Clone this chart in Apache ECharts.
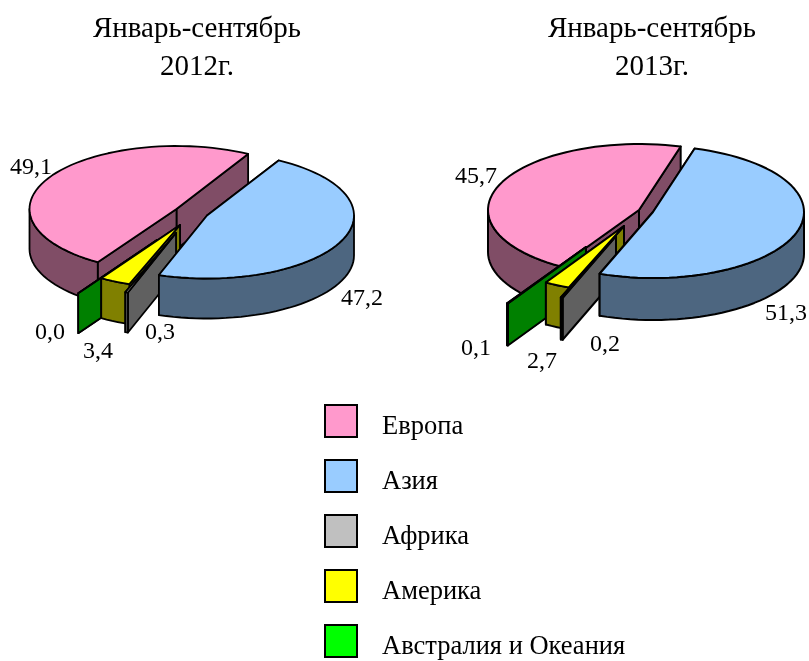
<!DOCTYPE html>
<html>
<head>
<meta charset="utf-8">
<script src="https://cdn.jsdelivr.net/npm/echarts@6/dist/echarts.min.js"></script>
<style>
    html, body { margin: 0; padding: 0; background: #fff; }
    #chart { width: 809px; height: 661px; }
</style>
</head>
<body>
<div id="chart"></div>
<script>
const categories = ['Европа', 'Азия', 'Африка', 'Америка', 'Австралия и Океания'];
const values2012 = [49.1, 47.2, 0.3, 3.4, 0.0];
const values2013 = [45.7, 51.3, 0.2, 2.7, 0.1];
const chartTitles = ['Январь-сентябрь\n2012г.', 'Январь-сентябрь\n2013г.'];

// цвета: верх сектора и его боковая грань
const topColors = ['#FF99CC', '#99CCFF', '#C0C0C0', '#FFFF00', '#00FF00'];
const sideColors = ['#804D66', '#4D6680', '#606060', '#808000', '#008000'];

// дальние секторы рисуем первыми, чтобы ближние их перекрывали
const drawOrder = [0, 4, 3, 2, 1];

const FONT = '"Liberation Serif", "Times New Roman", serif';

// геометрия двух наклонённых кругов, углы считаются по часовой от верха
const pies = [
    {
        values: values2012,
        startAngle: 212.4,
        rx: 147,
        ry: 63,
        depth: 40,
        lineWidth: 1.8,
        centers: [[176.5, 209], [207, 215.5], [176, 233], [180, 225], [157, 240]],
        labels: [[31, 168], [362, 299], [160, 333], [98, 352], [50, 333]]
    },
    {
        values: values2013,
        startAngle: 211.5,
        rx: 151,
        ry: 66,
        depth: 42,
        lineWidth: 2,
        centers: [[639, 210], [653, 212], [616, 236], [624, 226], [586, 247]],
        labels: [[476, 177], [786, 314], [605, 345], [542, 362], [476, 349]]
    }
];

const sliceAngles = (pie, index) => {
    const total = pie.values.reduce((sum, v) => sum + v, 0);
    let from = pie.startAngle;
    for (let i = 0; i < index; i++) {
        from += pie.values[i] / total * 360;
    }
    return [from, from + pie.values[index] / total * 360];
};

const rimPoint = (pie, center, angle, drop) => {
    const rad = angle * Math.PI / 180;
    return [
        center[0] + pie.rx * Math.sin(rad),
        center[1] - pie.ry * Math.cos(rad) + drop
    ];
};

const arcPoints = (pie, center, from, to, drop) => {
    const points = [];
    const steps = Math.max(1, Math.ceil((to - from) / 3));
    for (let i = 0; i <= steps; i++) {
        points.push(rimPoint(pie, center, from + (to - from) * i / steps, drop));
    }
    return points;
};

const polygon = (points, fill, lineWidth) => ({
    type: 'polygon',
    shape: { points },
    style: { fill, stroke: '#000', lineWidth, lineJoin: 'round' }
});

const renderSlice = (sliceIndex) => (params) => {
    const pie = pies[params.dataIndex];
    const center = pie.centers[sliceIndex];
    const [from, to] = sliceAngles(pie, sliceIndex);
    const side = sideColors[sliceIndex];
    const top = topColors[sliceIndex];
    const low = [center[0], center[1] + pie.depth];
    const children = [];

    // боковые срезы от центра к краю
    [to, from].forEach((angle) => {
        children.push(polygon([
            center,
            rimPoint(pie, center, angle, 0),
            rimPoint(pie, center, angle, pie.depth),
            low
        ], side, pie.lineWidth));
    });

    // внешняя стенка, только обращённая к зрителю
    [[90, 270], [450, 630]].forEach(([frontFrom, frontTo]) => {
        const a = Math.max(from, frontFrom);
        const b = Math.min(to, frontTo);
        if (b > a) {
            children.push(polygon(
                arcPoints(pie, center, a, b, 0).concat(arcPoints(pie, center, a, b, pie.depth).reverse()),
                side,
                pie.lineWidth
            ));
        }
    });

    children.push(polygon([center].concat(arcPoints(pie, center, from, to, 0)), top, pie.lineWidth));

    const labelPos = pie.labels[sliceIndex];
    children.push({
        type: 'text',
        z2: 100,
        style: {
            text: pie.values[sliceIndex].toFixed(1).replace('.', ','),
            x: labelPos[0],
            y: labelPos[1],
            fill: '#000',
            align: 'center',
            verticalAlign: 'middle',
            font: '24px ' + FONT
        }
    });

    return { type: 'group', children };
};

const chart = echarts.init(document.getElementById('chart'));

chart.setOption({
    animation: false,
    backgroundColor: '#fff',
    title: [
        { text: chartTitles[0], left: 192, top: 5 },
        { text: chartTitles[1], left: 647, top: 5 }
    ].map((t) => ({
        ...t,
        textAlign: 'center',
        textStyle: { fontFamily: FONT, fontSize: 29, fontWeight: 'normal', color: '#000', lineHeight: 38 }
    })),
    legend: {
        data: categories,
        orient: 'vertical',
        left: 319,
        top: 399,
        height: 300,
        itemWidth: 32,
        itemHeight: 32,
        itemGap: 18.5,
        icon: 'rect',
        selectedMode: false,
        itemStyle: { borderColor: '#000', borderWidth: 2 },
        formatter: (name) => '{n|' + name + '}',
        textStyle: {
            padding: [12, 0, 0, 20],
            rich: {
                n: { fontFamily: FONT, fontSize: 26.5, color: '#000', lineHeight: 28 }
            }
        }
    },
    series: drawOrder.map((sliceIndex) => ({
        type: 'custom',
        name: categories[sliceIndex],
        coordinateSystem: 'none',
        silent: true,
        itemStyle: { color: topColors[sliceIndex] },
        data: pies.map((pie) => pie.values[sliceIndex]),
        renderItem: renderSlice(sliceIndex)
    }))
});
</script>
</body>
</html>
